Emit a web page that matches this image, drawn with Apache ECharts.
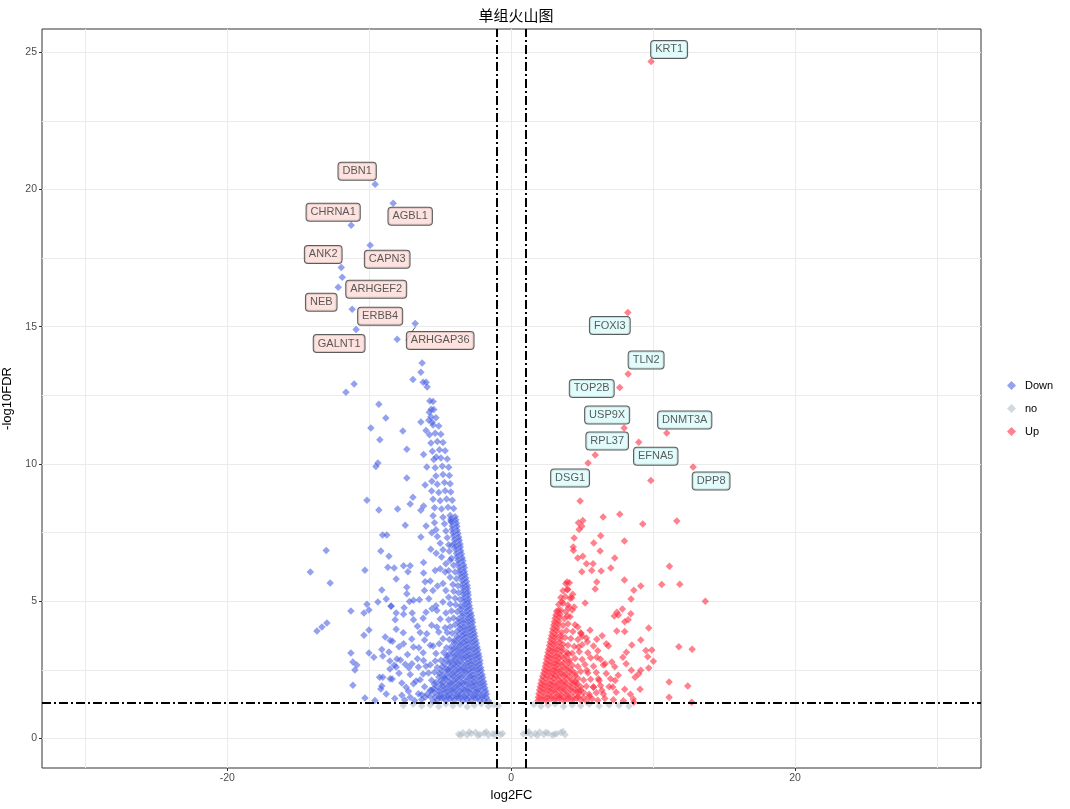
<!DOCTYPE html>
<html>
<head>
<meta charset="utf-8">
<script src="https://cdn.jsdelivr.net/npm/echarts@6/dist/echarts.min.js"></script>
<style>html,body{margin:0;padding:0;background:#fff}#c{width:1070px;height:809px}</style>
</head>
<body>
<div id="c"></div>
<script>
// ---------------- data ----------------
const xTicks = [-20, 0, 20];
const yTicks = [0, 5, 10, 15, 20, 25];
const xGrid = [-30, -20, -10, 0, 10, 20, 30];
const yGrid = [0, 2.5, 5, 7.5, 10, 12.5, 15, 17.5, 20, 22.5, 25];
const fcCut = [-1, 1];
const fdrCut = 1.301;

const downGenes = ['DBN1','AGBL1','CHRNA1','CAPN3','ANK2','ARHGEF2','NEB','ERBB4','ARHGAP36','GALNT1'];
const downGeneX = [-9.58,-8.31,-11.27,-9.93,-11.97,-11.9,-12.18,-11.2,-6.76,-10.92];
const downGeneY = [20.19,19.5,18.7,17.97,17.16,16.8,16.44,15.64,15.12,14.9];

const upGenes = ['KRT1','FOXI3','TLN2','TOP2B','USP9X','DNMT3A','EFNA5','RPL37','DSG1','DPP8'];
const upGeneX = [9.86,8.22,8.24,7.65,7.96,10.96,8.99,5.92,5.42,12.82];
const upGeneY = [24.67,15.52,13.28,12.79,11.31,11.13,10.79,10.33,10.03,9.89];

const downSparse = [
[-8.03,14.54],[-6.27,13.68],[-6.36,13.34],[-6.92,13.08],[-6.2,12.98],[-5.99,12.98],[-5.92,12.8],
[-11.06,12.91],[-11.64,12.61],[-9.32,12.18],[-8.83,11.67],[-9.88,11.31],[-7.63,11.2],[-9.25,10.88],
[-7.35,10.54],[-6.17,10.34],[-9.39,10.03],[-9.53,9.91],[-7.35,9.49],[-6.06,9.23],[-10.16,8.68],
[-9.32,8.32],[-8.0,8.36],[-7.11,8.54],[-6.92,8.79],[-6.36,8.31],[-6.17,8.47],[-7.46,7.77],[-5.99,7.74],
[-9.06,7.41],[-8.76,7.41],[-13.03,6.85],[-9.18,6.83],[-8.61,6.64],[-14.15,6.06],[-10.3,6.13],
[-8.69,6.24],[-8.24,6.21],[-12.75,5.66],[-8.1,5.81],[-9.11,5.41],[-10.16,4.89],[-9.39,4.97],
[-8.8,5.08],[-8.45,4.82],[-11.29,4.64],[-10.37,4.57],[-10.02,4.68],[-8.1,4.57],[-12.98,4.2],
[-13.33,4.06],[-13.68,3.91],[-10.02,3.95],[-10.37,3.76],[-8.1,3.98],[-8.87,3.69],[-8.52,3.57],
[-11.29,3.11],[-10.02,3.11],[-9.67,2.96],[-9.11,3.24],[-9.04,3.0],[-8.61,3.15],[-11.15,2.78],
[-10.87,2.67],[-11.01,2.49],[-8.54,2.82],[-8.05,2.89],[-8.24,2.66],[-8.1,2.6],[-8.54,2.53],
[-11.15,1.94],[-9.27,2.23],[-9.04,2.23],[-8.38,2.16],[-9.11,1.91],[-9.18,1.8],
[-5.73,12.29],[-5.63,11.99],[-5.77,11.88],[-6.36,11.53],[-5.8,11.59],[-5.56,11.52],[-6.0,11.22],
[-5.28,10.25],[-5.94,9.89],[-5.59,9.37],
[-4.25,7.92],[-6.36,7.34],[-5.59,7.49],[-5.66,6.89],[-5.28,6.75],[-4.18,7.03],[-7.58,6.29],
[-7.11,6.29],[-7.27,6.07],[-6.17,6.41],[-6.17,6.03],[-5.35,6.12],[-5.0,6.18],[-5.7,5.73],
[-6.06,5.71],[-5.19,5.55],[-4.3,6.49],[-4.65,6.06],[-7.35,5.51],[-7.35,5.27],[-6.11,5.39],
[-5.51,5.39],[-8.47,4.81],[-7.54,4.76],[-7.16,4.99],[-6.88,5.03],[-6.46,5.05],[-5.58,4.72],
[-5.23,4.66],[-4.81,4.97],[-6.97,4.57],[-6.88,4.32],[-8.17,4.32],[-7.58,4.52],[-6.41,3.86],
[-5.94,3.81],[-5.23,4.06],[-4.65,4.03],[-8.36,3.54],[-7.58,3.45],[-6.88,3.33],[-6.5,3.3],
[-5.7,3.39],[-5.07,3.45],[-7.46,2.7],[-6.99,2.72],[-6.17,2.84],[-6.53,2.6],[-5.7,2.68],
[-8.52,2.17],[-7.11,2.33],[-6.88,1.99],[-6.41,2.14],[-5.82,2.38],[-7.7,1.57],[-7.23,1.72],
[-7.11,1.5],[-6.53,1.63],[-6.06,1.5],[-5.7,1.75]
];

const downDense = [
[-1.6,1.36],[-1.9,1.4],[-2.2,1.37],[-2.5,1.45],[-2.8,1.38],[-3.1,1.42],[-3.4,1.36],[-3.7,1.47],[-4.0,1.39],[-4.3,1.44],[-4.6,1.37],[-4.9,1.46],[-5.2,1.4],[-5.5,1.35],[-6.3,1.42],[-6.8,1.38],[-7.5,1.4],[-8.2,1.45],[-9.6,1.38],[-10.3,1.47],
[-1.75,1.62],[-2.05,1.58],[-2.35,1.65],[-2.65,1.6],[-2.95,1.66],[-3.25,1.57],[-3.55,1.63],[-3.85,1.6],[-4.15,1.67],[-4.45,1.58],[-4.75,1.64],[-5.05,1.6],[-5.4,1.66],[-5.9,1.62],[-6.3,1.59],[-8.8,1.62],
[-1.85,1.84],[-2.15,1.88],[-2.45,1.82],[-2.75,1.9],[-3.05,1.85],[-3.35,1.81],[-3.65,1.89],[-3.95,1.84],[-4.25,1.87],[-4.55,1.83],[-4.85,1.9],[-5.15,1.85],[-5.45,1.82],[-6.1,1.88],[-7.4,1.86],
[-1.95,2.08],[-2.25,2.12],[-2.55,2.06],[-2.85,2.14],[-3.15,2.09],[-3.45,2.05],[-3.75,2.13],[-4.05,2.1],[-4.35,2.07],[-4.65,2.15],[-4.95,2.1],[-5.3,2.04],[-5.6,2.12],[-6.7,2.09],[-7.7,2.02],
[-2.05,2.33],[-2.35,2.38],[-2.65,2.31],[-2.95,2.36],[-3.25,2.4],[-3.55,2.32],[-3.85,2.37],[-4.15,2.34],[-4.45,2.39],[-4.75,2.3],[-5.05,2.36],[-5.4,2.41],[-6.2,2.35],[-7.9,2.37],
[-2.15,2.58],[-2.45,2.62],[-2.75,2.57],[-3.05,2.63],[-3.35,2.59],[-3.65,2.56],[-3.95,2.64],[-4.25,2.6],[-4.55,2.55],[-4.85,2.62],[-5.2,2.58],[-6.0,2.63],[-7.2,2.57],
[-2.2,2.84],[-2.5,2.88],[-2.8,2.82],[-3.1,2.87],[-3.4,2.9],[-3.7,2.83],[-4.0,2.86],[-4.3,2.81],[-4.6,2.89],[-4.95,2.85],[-5.35,2.82],[-6.6,2.9],[-7.8,2.86],
[-2.3,3.08],[-2.6,3.12],[-2.9,3.06],[-3.2,3.11],[-3.5,3.14],[-3.8,3.07],[-4.1,3.1],[-4.4,3.05],[-4.75,3.13],[-5.3,3.09],[-6.2,3.12],[-7.3,3.06],
[-2.4,3.33],[-2.7,3.37],[-3.0,3.31],[-3.3,3.36],[-3.6,3.39],[-3.9,3.32],[-4.2,3.35],[-4.55,3.3],[-5.5,3.37],[-7.9,3.34],
[-2.5,3.58],[-2.8,3.62],[-3.1,3.56],[-3.4,3.61],[-3.7,3.64],[-4.0,3.57],[-4.35,3.6],[-4.8,3.63],[-6.1,3.58],[-7.0,3.62],
[-2.6,3.84],[-2.9,3.88],[-3.2,3.82],[-3.5,3.87],[-3.8,3.9],[-4.15,3.83],[-4.5,3.86],[-5.1,3.88],[-7.6,3.85],
[-2.7,4.08],[-3.0,4.12],[-3.3,4.06],[-3.6,4.11],[-3.95,4.14],[-4.3,4.07],[-5.6,4.12],[-6.6,4.09],
[-2.75,4.33],[-3.05,4.37],[-3.35,4.31],[-3.7,4.36],[-4.05,4.39],[-4.4,4.32],[-5.0,4.35],[-6.2,4.38],
[-2.85,4.58],[-3.15,4.62],[-3.45,4.56],[-3.8,4.61],[-4.2,4.64],[-4.6,4.57],[-6.0,4.6],
[-2.95,4.84],[-3.25,4.88],[-3.55,4.82],[-3.9,4.87],[-4.3,4.9],[-5.3,4.83],
[-3.0,5.08],[-3.3,5.12],[-3.6,5.06],[-3.95,5.11],[-4.4,5.14],[-5.8,5.09],
[-3.05,5.33],[-3.35,5.37],[-3.7,5.31],[-4.05,5.36],[-4.6,5.39],
[-3.1,5.58],[-3.4,5.62],[-3.75,5.56],[-4.1,5.61],[-4.8,5.64],
[-3.2,5.84],[-3.5,5.88],[-3.85,5.82],[-4.3,5.87],
[-3.3,6.08],[-3.6,6.12],[-3.95,6.06],[-4.4,6.11],
[-3.35,6.33],[-3.7,6.37],[-4.05,6.31],[-4.6,6.36],
[-3.45,6.58],[-3.8,6.62],[-4.2,6.56],[-4.9,6.61],
[-3.55,6.84],[-3.9,6.88],[-4.35,6.82],[-4.8,6.87],
[-3.6,7.08],[-3.95,7.12],[-4.4,7.06],[-5.0,7.11],
[-3.7,7.33],[-4.05,7.37],[-4.5,7.31],[-5.2,7.36],
[-3.8,7.58],[-4.15,7.62],[-4.6,7.56],[-5.3,7.6],
[-3.85,7.84],[-4.2,7.88],[-4.7,7.82],[-5.4,7.86],
[-3.95,8.08],[-4.3,8.12],[-4.8,8.06],[-5.5,8.11],
[-4.05,8.38],[-4.45,8.42],[-4.9,8.36],[-5.4,8.4],
[-4.15,8.68],[-4.55,8.72],[-5.0,8.66],[-5.5,8.71],
[-4.25,8.98],[-4.65,9.02],[-5.1,8.96],[-5.6,9.01],
[-4.3,9.28],[-4.7,9.32],[-5.2,9.26],
[-4.35,9.58],[-4.8,9.62],[-5.3,9.56],
[-4.4,9.88],[-4.85,9.92],[-5.35,9.86],
[-4.5,10.18],[-4.95,10.22],[-5.45,10.16],
[-4.65,10.48],[-5.05,10.52],[-5.55,10.46],
[-4.8,10.78],[-5.2,10.82],[-5.65,10.76],
[-4.95,11.08],[-5.35,11.12],[-5.75,11.06],
[-5.1,11.38],[-5.5,11.42],
[-5.3,11.68],[-5.65,11.72],
[-5.45,11.98],[-5.5,12.28]
];

const downDense2 = [
[-1.75,1.5],[-2.05,1.52],[-2.35,1.49],[-2.65,1.53],[-2.95,1.5],[-3.25,1.51],[-3.55,1.48],[-3.85,1.53],[-4.15,1.5],[-4.45,1.52],[-4.75,1.49],[-5.05,1.51],[-5.35,1.5],[-5.7,1.53],
[-1.8,1.73],[-2.1,1.75],[-2.4,1.72],[-2.7,1.76],[-3.0,1.73],[-3.3,1.75],[-3.6,1.72],[-3.9,1.76],[-4.2,1.74],[-4.5,1.72],[-4.8,1.76],[-5.1,1.73],[-5.6,1.75],
[-1.9,1.97],[-2.2,1.99],[-2.5,1.96],[-2.8,2.0],[-3.1,1.97],[-3.4,1.99],[-3.7,1.96],[-4.0,2.0],[-4.3,1.98],[-4.6,1.96],[-4.9,2.0],[-5.4,1.97],
[-2.0,2.22],[-2.3,2.24],[-2.6,2.21],[-2.9,2.25],[-3.2,2.22],[-3.5,2.24],[-3.8,2.21],[-4.1,2.25],[-4.4,2.23],[-4.7,2.21],[-5.1,2.24],
[-2.1,2.47],[-2.4,2.49],[-2.7,2.46],[-3.0,2.5],[-3.3,2.47],[-3.6,2.49],[-3.9,2.46],[-4.2,2.5],[-4.5,2.48],[-4.9,2.46],
[-2.2,2.72],[-2.5,2.74],[-2.8,2.71],[-3.1,2.75],[-3.4,2.72],[-3.7,2.74],[-4.0,2.71],[-4.35,2.75],[-4.7,2.73],
[-2.25,2.97],[-2.55,2.99],[-2.85,2.96],[-3.15,3.0],[-3.45,2.97],[-3.75,2.99],[-4.05,2.96],[-4.5,3.0],
[-2.35,3.22],[-2.65,3.24],[-2.95,3.21],[-3.25,3.25],[-3.55,3.22],[-3.85,3.24],[-4.2,3.21],
[-2.45,3.47],[-2.75,3.49],[-3.05,3.46],[-3.35,3.5],[-3.65,3.47],[-4.0,3.49],
[-2.55,3.72],[-2.85,3.74],[-3.15,3.71],[-3.45,3.75],[-3.8,3.72],
[-2.65,3.97],[-2.95,3.99],[-3.25,3.96],[-3.6,4.0],
[-2.72,4.22],[-3.02,4.24],[-3.35,4.21],[-3.7,4.25],
[-2.8,4.47],[-3.1,4.49],[-3.45,4.46],
[-2.9,4.72],[-3.2,4.74],[-3.55,4.71],
[-2.98,4.97],[-3.3,4.99],[-3.02,5.22],[-3.35,5.24],[-3.08,5.47],[-3.4,5.49],
[-3.15,5.72],[-3.45,5.74],[-3.25,5.97],[-3.6,5.99],[-3.3,6.22],[-3.65,6.24],
[-3.4,6.47],[-3.75,6.49],[-3.5,6.72],[-3.85,6.74],[-3.58,6.97],[-3.9,6.99],
[-3.65,7.22],[-4.0,7.24],[-3.75,7.47],[-4.1,7.49],[-3.82,7.72],[-4.15,7.74],
[-3.9,7.97],[-4.25,7.99]
];

const upSparse = [
[9.84,9.40],[4.86,8.65],[6.48,8.07],[7.65,8.17],[4.74,7.86],[5.05,7.94],[4.98,7.73],[4.79,7.61],[9.27,7.81],[11.67,7.92],
[4.44,7.3],[6.31,7.38],[5.82,7.12],[7.98,7.19],[4.37,6.97],[4.39,6.85],[6.27,6.83],[4.69,6.57],[5.05,6.64],
[5.31,6.36],[5.77,6.36],[7.3,6.57],[4.98,6.07],[5.68,6.12],[6.34,6.1],[7.02,6.21],[11.15,6.27],[3.94,5.7],
[3.99,5.43],[6.03,5.7],[5.92,5.44],[7.98,5.77],[8.64,5.4],[9.13,5.55],[10.61,5.61],[11.88,5.62],[13.68,5.0],
[4.34,5.25],[4.27,5.12],[3.57,4.99],[4.04,4.76],[4.44,4.79],[5.21,4.93],[8.45,5.08],[7.84,4.71],[7.27,4.46],
[7.55,4.5],[7.45,4.6],[8.43,4.54],[8.24,4.32],[8.0,4.25],[3.33,4.66],[3.96,4.46],[4.69,4.06],[5.56,3.94],
[4.93,3.81],[5.0,3.72],[7.44,3.91],[8.0,3.89],[9.69,4.02],[6.41,3.74],[6.03,3.61],[5.37,3.52],[6.85,3.37],
[6.7,3.45],[9.13,3.58],[8.5,3.4],[11.81,3.34],[12.75,3.25],[9.91,3.22],[9.49,3.2],[9.62,2.97],[10.02,2.81],
[9.69,2.56],[9.13,2.48],[8.98,2.35],[8.73,2.23],[8.12,3.14],[7.87,2.96],[8.1,2.72],[8.47,2.48],[7.54,2.3],
[7.16,1.87],[8.0,1.79],[8.4,1.61],[9.08,1.79],[11.13,2.05],[12.44,1.91],[11.13,1.5],[12.72,1.32],[8.64,1.32],
[4.74,3.33],[4.04,3.08],[6.03,2.96],[6.62,2.72],[7.09,2.78],[5.33,2.48],[6.15,2.17],[5.8,1.87],[6.39,1.75],
[4.51,2.05],[4.74,1.75],[7.32,2.11]
];

const upDense = [
[1.9,1.38],[2.2,1.42],[2.5,1.36],[2.8,1.44],[3.1,1.39],[3.4,1.45],[3.7,1.37],[4.0,1.43],[4.3,1.38],[4.6,1.46],[4.9,1.4],[5.3,1.36],[5.7,1.44],[6.1,1.39],[6.6,1.45],[7.2,1.41],[7.9,1.37],[8.6,1.43],
[1.95,1.63],[2.25,1.67],[2.55,1.61],[2.85,1.68],[3.15,1.64],[3.45,1.6],[3.75,1.66],[4.05,1.62],[4.4,1.69],[4.75,1.63],[5.1,1.67],[5.5,1.61],[6.0,1.66],[6.5,1.62],[7.4,1.68],
[2.05,1.88],[2.35,1.92],[2.65,1.86],[2.95,1.93],[3.25,1.89],[3.55,1.85],[3.85,1.91],[4.2,1.87],[4.55,1.94],[4.9,1.88],[5.3,1.9],[5.8,1.86],[6.3,1.93],[6.9,1.88],
[2.15,2.13],[2.45,2.17],[2.75,2.11],[3.05,2.18],[3.35,2.14],[3.65,2.1],[3.95,2.16],[4.3,2.12],[4.7,2.19],[5.1,2.13],[5.6,2.15],[6.2,2.11],[7.0,2.17],
[2.3,2.38],[2.6,2.42],[2.9,2.36],[3.2,2.43],[3.5,2.39],[3.8,2.35],[4.15,2.41],[4.5,2.37],[4.9,2.44],[5.4,2.38],[6.0,2.4],[6.7,2.36],
[2.4,2.63],[2.7,2.67],[3.0,2.61],[3.3,2.68],[3.6,2.64],[3.95,2.6],[4.3,2.66],[4.7,2.62],[5.2,2.69],[5.8,2.63],[6.5,2.67],[7.3,2.61],
[2.5,2.88],[2.8,2.92],[3.1,2.86],[3.4,2.93],[3.75,2.89],[4.1,2.85],[4.5,2.91],[5.0,2.87],[5.6,2.94],[6.3,2.88],
[2.6,3.13],[2.9,3.17],[3.2,3.11],[3.55,3.18],[3.9,3.14],[4.3,3.1],[4.8,3.16],[5.4,3.12],[6.1,3.19],
[2.7,3.38],[3.0,3.42],[3.3,3.36],[3.65,3.43],[4.0,3.39],[4.45,3.35],[5.0,3.41],[5.8,3.37],
[2.8,3.63],[3.1,3.67],[3.45,3.61],[3.8,3.68],[4.2,3.64],[4.7,3.6],[5.3,3.66],
[2.9,3.88],[3.2,3.92],[3.55,3.86],[3.9,3.93],[4.35,3.89],[4.9,3.85],
[3.0,4.13],[3.3,4.17],[3.65,4.11],[4.0,4.18],[4.5,4.14],
[3.1,4.38],[3.4,4.42],[3.75,4.36],[4.15,4.43],
[3.2,4.63],[3.5,4.67],[3.85,4.61],[4.3,4.68],
[3.35,4.88],[3.65,4.92],[4.0,4.86],
[3.5,5.13],[3.8,5.17],[4.15,5.11],
[3.65,5.38],[3.95,5.42],
[3.85,5.63],[4.1,5.67]
];

const upDense2 = [
[1.92,1.5],[2.22,1.52],[2.52,1.49],[2.82,1.53],[3.12,1.5],[3.42,1.52],[3.72,1.49],[4.02,1.53],[4.35,1.5],[4.7,1.52],[5.1,1.49],[5.5,1.53],
[2.0,1.76],[2.3,1.78],[2.6,1.75],[2.9,1.79],[3.2,1.76],[3.5,1.78],[3.8,1.75],[4.15,1.79],[4.5,1.77],[4.9,1.75],
[2.1,2.0],[2.4,2.02],[2.7,1.99],[3.0,2.03],[3.3,2.0],[3.6,2.02],[3.9,1.99],[4.25,2.03],[4.65,2.0],
[2.22,2.26],[2.52,2.28],[2.82,2.25],[3.12,2.29],[3.42,2.26],[3.75,2.28],[4.1,2.25],[4.5,2.29],
[2.35,2.5],[2.65,2.52],[2.95,2.49],[3.25,2.53],[3.55,2.5],[3.9,2.52],[4.25,2.49],
[2.45,2.75],[2.75,2.77],[3.05,2.74],[3.35,2.78],[3.7,2.75],[4.05,2.77],
[2.55,3.0],[2.85,3.02],[3.15,2.99],[3.5,3.03],[3.85,3.0],
[2.65,3.25],[2.95,3.27],[3.25,3.24],[3.6,3.28],
[2.75,3.5],[3.05,3.52],[3.4,3.49],
[2.85,3.75],[3.15,3.77],[3.5,3.74],
[2.95,4.0],[3.25,4.02],[3.05,4.25],[3.35,4.27],[3.15,4.5],[3.45,4.52]
];

const noLow = [
[-3.7,0.15],[-3.4,0.2],[-3.1,0.12],[-2.8,0.18],[-2.5,0.22],[-2.2,0.14],[-1.9,0.19],[-1.6,0.11],[-1.3,0.17],[-1.0,0.21],[-0.75,0.13],[-0.6,0.18],
[-3.55,0.11],[-2.95,0.23],[-2.35,0.1],[-1.75,0.24],[-1.15,0.12],
[0.85,0.16],[1.1,0.2],[1.4,0.12],[1.7,0.18],[2.0,0.23],[2.3,0.14],[2.6,0.19],[2.9,0.11],[3.2,0.17],[3.5,0.21],[3.8,0.13],
[1.25,0.24],[1.85,0.1],[2.45,0.22],[3.05,0.15],[3.65,0.25]
];
const noMid = [
[-7.6,1.2],[-6.9,1.24],[-6.3,1.18],[-5.7,1.22],[-5.1,1.16],[-4.6,1.25],[-4.1,1.19],[-3.6,1.23],[-3.1,1.15],[-2.6,1.21],[-2.1,1.26],[-1.6,1.17],[-1.2,1.22],[-0.9,1.19],
[1.6,1.23],[2.1,1.17],[2.6,1.21],[3.1,1.25],[3.7,1.16],[4.3,1.22],[4.9,1.19],[5.5,1.24],[6.2,1.18],[6.9,1.22],[7.6,1.2],[8.3,1.17]
];

// ---------------- layout / style ----------------
const labelOffset = {
  DBN1:[-18,-13], AGBL1:[17,13], CHRNA1:[-18,-13], CAPN3:[17,14], ANK2:[-18,-13],
  ARHGEF2:[34,12], NEB:[-17,15], ERBB4:[28,7], ARHGAP36:[25,17], GALNT1:[-17,14],
  KRT1:[18,-12], FOXI3:[-18,13], TLN2:[18,-14], TOP2B:[-28,1], USP9X:[-17,-13],
  DNMT3A:[18,-13], EFNA5:[17,14], RPL37:[12,-14], DSG1:[-18,15], DPP8:[18,14]
};
const FONT = '"Liberation Sans", Arial, sans-serif';

function labelled(names, xs, ys, fill) {
  return names.map((n, i) => ({
    name: n,
    value: [xs[i], ys[i]],
    label: {
      show: true, formatter: n, position: 'inside',
      backgroundColor: fill, borderColor: '#333', borderWidth: 1, borderRadius: 3,
      padding: [2, 4, 2, 4], color: '#333', fontSize: 11, lineHeight: 13, fontFamily: FONT
    },
    labelLine: { show: n === 'ARHGAP36', lineStyle: { color: '#333', width: 0.8 } }
  }));
}
function moveLabel(p) {
  const o = labelOffset[p.text];
  return o ? { dx: o[0], dy: o[1], hideOverlap: false } : { hideOverlap: false };
}
const asItems = arr => arr.map(p => ({ value: p }));

const downData = labelled(downGenes, downGeneX, downGeneY, '#FCDCD7')
  .concat(asItems(downSparse), asItems(downDense), asItems(downDense2));
const upData = labelled(upGenes, upGeneX, upGeneY, '#DBFBFB')
  .concat(asItems(upSparse), asItems(upDense), asItems(upDense2));
const noData = noLow.concat(noMid);

const chart = echarts.init(document.getElementById('c'), null, { renderer: 'canvas' });
chart.setOption({
  animation: false,
  backgroundColor: '#fff',
  title: {
    text: '单组火山图', left: 511, top: 3, textAlign: 'center',
    textStyle: { fontSize: 15, fontWeight: 'normal', color: '#000', fontFamily: '"Noto Sans CJK SC", sans-serif' }
  },
  legend: {
    data: ['Down', 'no', 'Up'], orient: 'vertical', left: 1002, top: 375,
    icon: 'diamond', itemWidth: 9, itemHeight: 9, itemGap: 12,
    textStyle: { fontSize: 11, color: '#000', fontFamily: FONT, padding: [0, 0, 0, 4] }
  },
  grid: { left: 42, right: 89, top: 29, bottom: 41, containLabel: false, outerBoundsMode: 'none',
          show: true, borderColor: '#333', borderWidth: 1, backgroundColor: '#fff' },
  xAxis: {
    type: 'value', min: -33.05, max: 33.1, position: 'bottom',
    name: 'log2FC', nameLocation: 'middle', nameGap: 20,
    nameTextStyle: { fontSize: 13, color: '#000', fontFamily: FONT },
    axisLine: { show: false, onZero: false }, splitLine: { show: false },
    axisTick: { show: true, customValues: xTicks, length: 3, lineStyle: { color: '#333' } },
    axisLabel: { customValues: xTicks, fontSize: 10.5, color: '#4D4D4D', margin: 5, fontFamily: FONT }
  },
  yAxis: {
    type: 'value', min: -1.08, max: 25.85, position: 'left',
    name: '-log10FDR', nameLocation: 'middle', nameGap: 20, nameRotate: 90,
    nameTextStyle: { fontSize: 13, color: '#000', fontFamily: FONT },
    axisLine: { show: false, onZero: false }, splitLine: { show: false },
    axisTick: { show: true, customValues: yTicks, length: 3, lineStyle: { color: '#333' } },
    axisLabel: { customValues: yTicks, fontSize: 10.5, color: '#4D4D4D', margin: 5, fontFamily: FONT }
  },
  series: [
    {
      type: 'scatter', data: [], silent: true, z: 0,
      markLine: {
        z: 0, silent: true, symbol: 'none', label: { show: false }, animation: false,
        lineStyle: { color: '#EBEBEB', width: 1, type: 'solid' },
        data: xGrid.map(v => ({ xAxis: v })).concat(yGrid.map(v => ({ yAxis: v })))
      }
    },
    {
      name: 'no', type: 'scatter', symbol: 'diamond', symbolSize: 7.5, z: 2,
      itemStyle: { color: 'rgba(178,190,200,0.75)' }, data: noData
    },
    {
      name: 'Down', type: 'scatter', symbol: 'diamond', symbolSize: 7.5, z: 3,
      itemStyle: { color: 'rgba(70,92,225,0.72)' }, data: downData,
      labelLayout: moveLabel
    },
    {
      name: 'Up', type: 'scatter', symbol: 'diamond', symbolSize: 7.5, z: 3,
      itemStyle: { color: 'rgba(255,45,65,0.75)' }, data: upData,
      labelLayout: moveLabel
    },
    {
      type: 'scatter', data: [], silent: true, z: 4,
      markLine: {
        z: 4, silent: true, symbol: 'none', label: { show: false }, animation: false,
        lineStyle: { color: '#000', width: 2, type: [9, 3, 2, 3] },
        data: fcCut.map(v => ({ xAxis: v })).concat([{ yAxis: fdrCut }])
      }
    }
  ]
});
</script>
</body>
</html>
